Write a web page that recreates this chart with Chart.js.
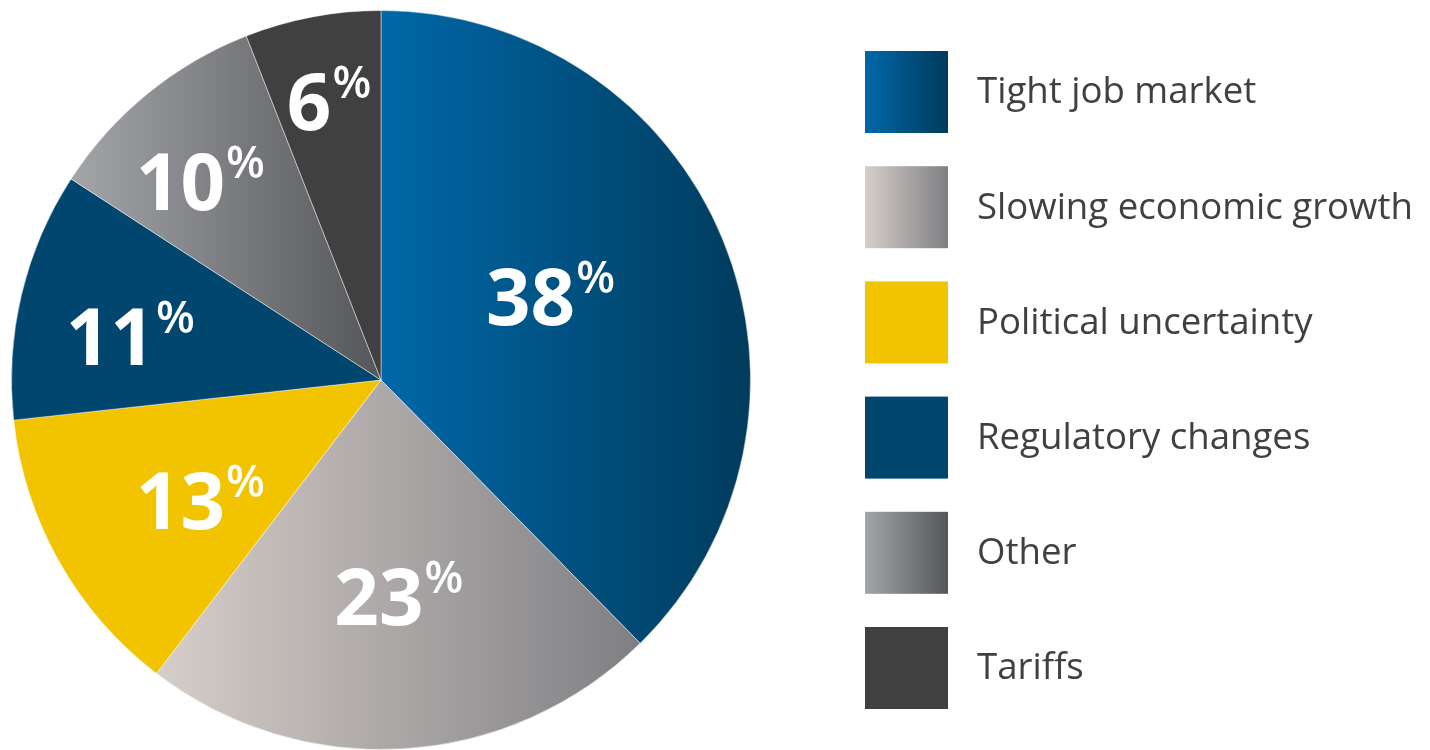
<!DOCTYPE html>
<html>
<head>
<meta charset="utf-8">
<script src="https://cdn.jsdelivr.net/npm/chart.js@4/dist/chart.umd.min.js"></script>
<style>
  html, body { margin: 0; padding: 0; background: #ffffff; }
  #wrap { width: 1430px; height: 750px; position: relative; }
</style>
</head>
<body>
<div id="wrap"><canvas id="pieChart" width="1430" height="750"></canvas></div>
<script>
// Data
const categories = ['Tight job market', 'Slowing economic growth', 'Political uncertainty',
  'Regulatory changes', 'Other', 'Tariffs'];
const shares = [38, 23, 13, 11, 10, 6];

// Colours: [left, right] of a horizontal gradient, or a single flat colour
const sliceColors = [
  ['#0068a8', '#003b5c'],
  ['#d6cec9', '#7f7f83'],
  ['#f2c400'],
  ['#00466f'],
  ['#a4a5a9', '#555659'],
  ['#404040']
];

// where each % label sits: fraction of the radius, and a small turn (degrees) off the slice middle
const labelRadius = [0.51, 0.59, 0.59, 0.69, 0.727, 0.765];
const labelTurn = [-4, -1, -4.4, -3.6, -3.2, 0];

function fillFor(ctx, colors, x0, x1) {
  if (colors.length === 1) return colors[0];
  const g = ctx.createLinearGradient(x0, 0, x1, 0);
  g.addColorStop(0, colors[0]);
  g.addColorStop(1, colors[1]);
  return g;
}

// -------------------------------------------------------------
// Gradient fills spanning each slice's own horizontal extent
// -------------------------------------------------------------
const sliceGradients = {
  id: 'sliceGradients',
  beforeDatasetsDraw(chart) {
    const ctx = chart.ctx;
    chart.getDatasetMeta(0).data.forEach((arc, i) => {
      const { x, startAngle, endAngle, outerRadius } = arc.getProps(['x', 'startAngle', 'endAngle', 'outerRadius'], true);
      let xs = [x, x + outerRadius * Math.cos(startAngle), x + outerRadius * Math.cos(endAngle)];
      // include horizontal extremes if the arc crosses 0 or PI
      for (let k = -4; k <= 4; k++) {
        const a = k * Math.PI;
        if (a > startAngle && a < endAngle) xs.push(x + outerRadius * Math.cos(a));
      }
      arc.options.backgroundColor = fillFor(ctx, sliceColors[i], Math.min(...xs), Math.max(...xs));
    });
  }
};

// -------------------------------------------------------------
// Big white % labels inside the slices
// -------------------------------------------------------------
const pctLabels = {
  id: 'pctLabels',
  afterDatasetsDraw(chart) {
    const ctx = chart.ctx;
    chart.getDatasetMeta(0).data.forEach((arc, i) => {
      const { x, y, startAngle, endAngle, outerRadius } = arc.getProps(['x', 'y', 'startAngle', 'endAngle', 'outerRadius'], true);
      const mid = (startAngle + endAngle) / 2 + labelTurn[i] * Math.PI / 180;
      const r = outerRadius * labelRadius[i];
      const cx = x + r * Math.cos(mid);
      const cy = y + r * Math.sin(mid);
      const num = String(shares[i]);
      ctx.save();
      ctx.fillStyle = '#ffffff';
      ctx.textBaseline = 'alphabetic';
      ctx.textAlign = 'left';
      ctx.font = 'bold 78px "Open Sans"';
      const wNum = ctx.measureText(num).width;
      ctx.font = '600 45px "Open Sans"';
      const wPct = ctx.measureText('%').width;
      const left = cx - (wNum + wPct) / 2;
      const base = cy + 28;
      ctx.font = 'bold 78px "Open Sans"';
      ctx.fillText(num, left, base);
      ctx.font = '600 45px "Open Sans"';
      ctx.fillText('%', left + wNum + 1, base - 32);
      ctx.restore();
    });
  }
};

// -------------------------------------------------------------
// Legend on the right: swatches + labels
// -------------------------------------------------------------
const sideLegend = {
  id: 'sideLegend',
  afterDraw(chart) {
    const ctx = chart.ctx;
    const boxX = 865, boxW = 83, boxH = 82, top0 = 51, step = 115.2;
    ctx.save();
    categories.forEach((name, i) => {
      const top = top0 + i * step;
      ctx.fillStyle = fillFor(ctx, sliceColors[i], boxX, boxX + boxW);
      ctx.fillRect(boxX, top, boxW, boxH);
      ctx.fillStyle = '#404040';
      ctx.font = '36.6px "Open Sans"';
      ctx.textBaseline = 'middle';
      ctx.textAlign = 'left';
      ctx.fillText(name, 977, top + boxH / 2 + 1);
    });
    ctx.restore();
  }
};

new Chart(document.getElementById('pieChart'), {
  type: 'pie',
  data: {
    labels: categories,
    datasets: [{
      data: shares,
      backgroundColor: sliceColors.map(c => c[0]),
      borderColor: 'rgba(255,255,255,0.45)',
      borderWidth: 1
    }]
  },
  options: {
    responsive: false,
    animation: false,
    layout: { padding: { top: 10, bottom: 0, left: 11, right: 679 } },
    plugins: {
      legend: { display: false },
      tooltip: { enabled: false }
    }
  },
  plugins: [sliceGradients, pctLabels, sideLegend]
});
</script>
</body>
</html>
